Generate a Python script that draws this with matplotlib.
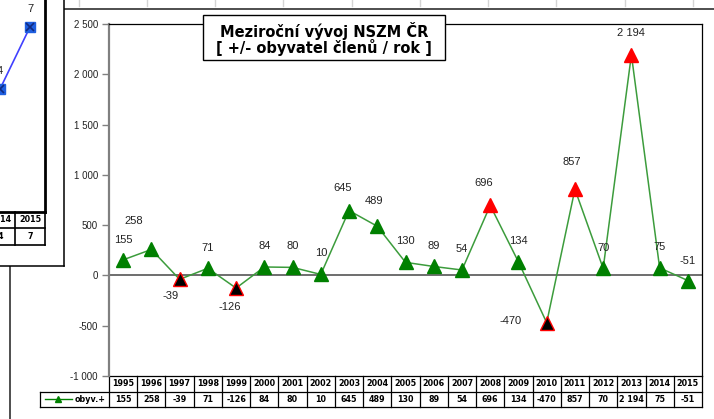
import matplotlib.pyplot as plt
from matplotlib.lines import Line2D
from matplotlib.patches import Rectangle

# data
years = [1995, 1996, 1997, 1998, 1999, 2000, 2001, 2002, 2003, 2004, 2005,
         2006, 2007, 2008, 2009, 2010, 2011, 2012, 2013, 2014, 2015]
obyv = [155, 258, -39, 71, -126, 84, 80, 10, 645, 489, 130,
        89, 54, 696, 134, -470, 857, 70, 2194, 75, -51]
series_name = 'obyv.+'
title_lines = ['Meziroční vývoj NSZM ČR', '[ +/- obyvatel členů / rok ]']
red_years = [2008, 2011, 2013]
black_years = [1997, 1999, 2010]

# partial neighbour chart on the left (cut off in the screenshot)
left_years = [2014, 2015]
left_vals = [4, 7]

# label offsets in pixels (dx, dy), Excel moved some of them by hand
label_off = {1995: (0, 20), 1996: (-18, 28), 1997: (-9, -17), 1998: (0, 20),
             1999: (-6, -19), 2000: (0, 21), 2001: (0, 21), 2002: (0, 21),
             2003: (-6, 23), 2004: (-3, 25), 2005: (0, 21), 2006: (0, 20),
             2007: (0, 21), 2008: (-7, 22), 2009: (0, 21), 2010: (-36, 2),
             2011: (-3, 27), 2012: (0, 20), 2013: (0, 22), 2014: (0, 21),
             2015: (0, 20)}

W, H = 714, 419


def fx(px):
    return px / W


def fy(py):
    return 1 - py / H


def fmt(v):
    return f'{v:,}'.replace(',', ' ')


plt.rcParams['font.family'] = ['Liberation Sans', 'DejaVu Sans']
fig = plt.figure(figsize=(W / 100, H / 100), dpi=100)

# spreadsheet gridline stubs above the chart frame
for gx in [79, 147, 215, 283, 352, 420, 488, 556, 625, 693]:
    fig.add_artist(Line2D([fx(gx), fx(gx)], [fy(0), fy(6)], color='#d4d4d4', lw=1))

# outer frame of the main chart
fig.add_artist(Line2D([fx(10), fx(714)], [fy(9), fy(9)], color='#404040', lw=1.3))
fig.add_artist(Line2D([fx(10), fx(10)], [fy(9), fy(419)], color='#404040', lw=1.3))

# ---- main plot ----
L, R, T, B = 109, 702, 24, 376
ax = fig.add_axes([fx(L), fy(B), fx(R) - fx(L), fy(T) - fy(B)])
n = len(years)
x = list(range(n))
ax.set_xlim(-0.5, n - 0.5)
ax.set_ylim(-1000, 2500)
ticks = list(range(-1000, 2501, 500))
ax.set_yticks(ticks)
ax.set_yticklabels([fmt(t) for t in ticks], fontsize=7, color='#222222')
ax.set_xticks([])
ax.tick_params(axis='y', direction='out', length=5, width=1, color='#808080', pad=3)
ax.spines['left'].set_color('#808080')
ax.spines['left'].set_linewidth(1.6)
ax.spines['top'].set_linewidth(0.9)
ax.spines['right'].set_linewidth(0.9)
ax.spines['bottom'].set_visible(False)
ax.axhline(0, color='#555555', lw=1.2, zorder=1)

ax.plot(x, obyv, color='#3c9c3c', lw=1.1, zorder=3)
for i, (yr, v) in enumerate(zip(years, obyv)):
    if yr in red_years:
        fc, ec = '#ff0000', '#ff0000'
    elif yr in black_years:
        fc, ec = '#000000', '#ff0000'
    else:
        fc, ec = '#008000', '#008000'
    ax.plot(i, v, marker='^', ms=10, mfc=fc, mec=ec, mew=1, ls='none',
            zorder=4, clip_on=False)
    dx, dy = label_off[yr]
    ax.annotate(fmt(v), (i, v), xytext=(dx, dy), textcoords='offset pixels',
                ha='center', va='center', fontsize=8, color='#222222', zorder=5)

# data table under the plot
px_per = (R - L) / n


def xd(px):
    return -0.5 + (px - L) / px_per


tr = ax.get_xaxis_transform()
y1 = -(391.5 - B) / (B - T)
y2 = -(407 - B) / (B - T)
xl = xd(40)
lk = dict(transform=tr, clip_on=False, color='black', lw=0.9)
ax.plot([-0.5, n - 0.5], [0, 0], **lk)
ax.plot([xl, n - 0.5], [y1, y1], **lk)
ax.plot([xl, n - 0.5], [y2, y2], **lk)
ax.plot([xl, xl], [y1, y2], **lk)
for k in range(n + 1):
    ax.plot([k - 0.5, k - 0.5], [0, y2], **lk)
for i, (yr, v) in enumerate(zip(years, obyv)):
    ax.text(i, y1 / 2, str(yr), transform=tr, ha='center', va='center',
            fontsize=5.8, fontweight='bold', family='DejaVu Sans')
    ax.text(i, (y1 + y2) / 2, fmt(v), transform=tr, ha='center', va='center',
            fontsize=5.8, fontweight='bold', family='DejaVu Sans')
ym = (y1 + y2) / 2
ax.plot([xd(45), xd(72)], [ym, ym], transform=tr, clip_on=False, color='#008000', lw=1)
ax.plot([xd(58)], [ym], transform=tr, clip_on=False, marker='^', ms=4,
        color='#008000', ls='none')
ax.text(xd(75), ym, series_name, transform=tr, ha='left', va='center',
        fontsize=5.8, fontweight='bold', family='DejaVu Sans')

# title box
fig.add_artist(Rectangle((fx(203), fy(60)), fx(242), (60 - 15) / H,
                         transform=fig.transFigure, fc='white', ec='black',
                         lw=1, zorder=10))
fig.text(fx(324), fy(30.5), title_lines[0], ha='center', va='center',
         fontsize=10.5, fontweight='bold', family='DejaVu Sans', zorder=11)
fig.text(fx(324), fy(48), title_lines[1], ha='center', va='center',
         fontsize=10.5, fontweight='bold', family='DejaVu Sans', zorder=11)

# ---- neighbouring chart, overlapping on the left ----
pan = fig.add_axes([0, fy(266), fx(64), fy(0) - fy(266)])
pan.set_zorder(5)
pan.set_facecolor('white')
pan.set_xticks([])
pan.set_yticks([])
for s in ['top', 'left']:
    pan.spines[s].set_visible(False)
for s in ['right', 'bottom']:
    pan.spines[s].set_linewidth(1.1)

la = fig.add_axes([fx(-45), fy(212), fx(90), (212 + 50) / H])
la.set_zorder(6)
la.patch.set_alpha(0)
la.set_xlim(-0.5, 2.5)
ppu = (89 - 27) / (left_vals[1] - left_vals[0])
la.set_ylim(left_vals[0] - (212 - 89) / ppu, left_vals[1] + (27 + 50) / ppu)
la.set_xticks([])
la.set_yticks([])
for s in ['top', 'left']:
    la.spines[s].set_visible(False)
for s in ['right', 'bottom']:
    la.spines[s].set_linewidth(2)
lx = [1 + i for i in range(len(left_years))]
la.plot(lx, left_vals, color='#4040ff', lw=1.2, zorder=3)
la.plot(lx, left_vals, marker='s', ms=7, mfc='#1f5fe0', mec='#1f5fe0',
        ls='none', zorder=4, clip_on=False)
la.plot(lx, left_vals, marker='x', ms=6, mec='#102a80', mew=1.2,
        ls='none', zorder=5, clip_on=False)
for xi, v in zip(lx, left_vals):
    la.annotate(str(v), (xi, v), xytext=(0, 18), textcoords='offset pixels',
                ha='center', va='center', fontsize=8, color='#222222')
ltr = la.get_xaxis_transform()
hl = 262
ly1, ly2 = -16 / hl, -33 / hl
lk2 = dict(transform=ltr, clip_on=False, color='black', lw=1.2)
la.plot([-0.5, 2.5], [ly1, ly1], **lk2)
la.plot([-0.5, 2.5], [ly2, ly2], **lk2)
for k in [1.5, 2.5]:
    la.plot([k, k], [0, ly2], **lk2)
for xi, yr, v in zip(lx, left_years, left_vals):
    la.text(xi, ly1 / 2, str(yr), transform=ltr, ha='center', va='center',
            fontsize=5.8, fontweight='bold', family='DejaVu Sans')
    la.text(xi, (ly1 + ly2) / 2, str(v), transform=ltr, ha='center', va='center',
            fontsize=5.8, fontweight='bold', family='DejaVu Sans')

fig.savefig('out.png', dpi=100)
